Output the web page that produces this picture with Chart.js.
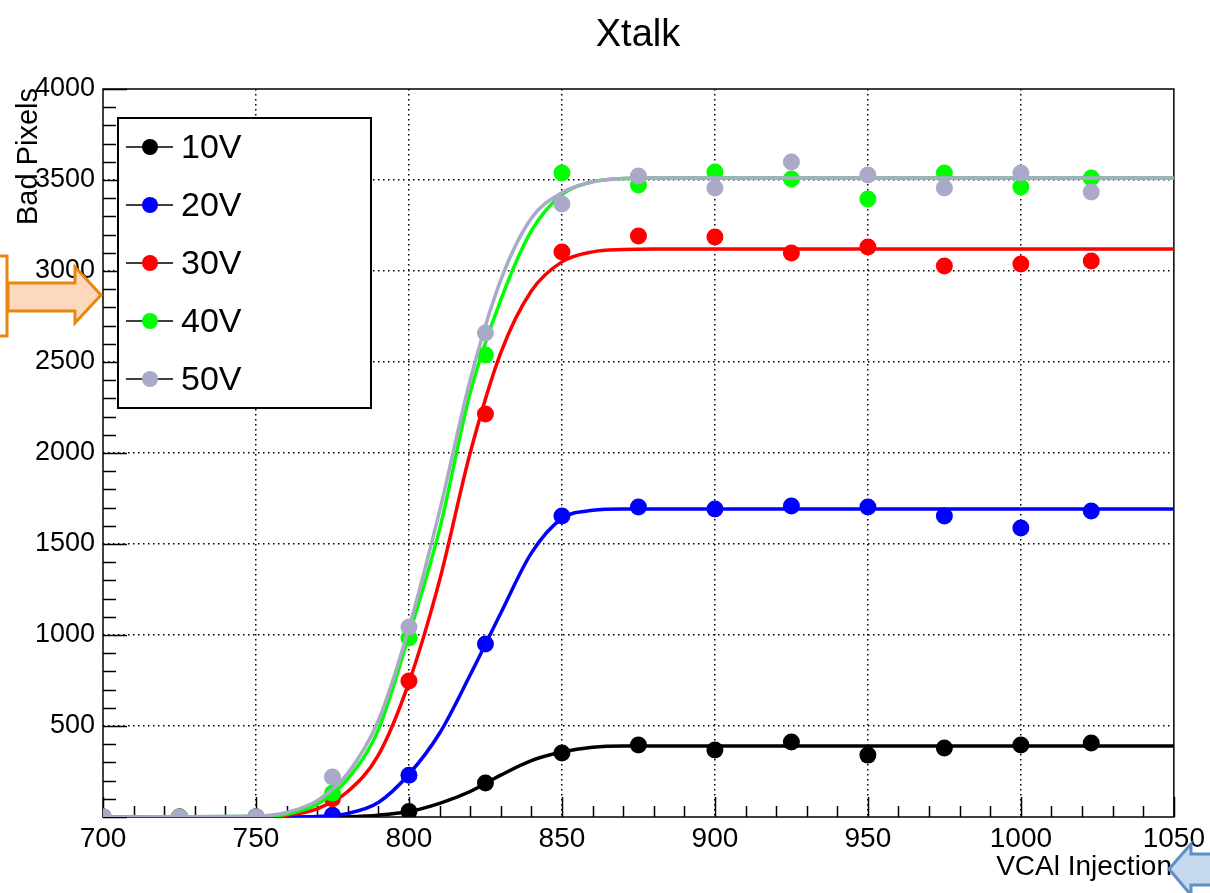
<!DOCTYPE html>
<html>
<head>
<meta charset="utf-8">
<title>Xtalk</title>
<script src="https://cdn.jsdelivr.net/npm/chart.js@4.4.1/dist/chart.umd.min.js"></script>
<style>
  html, body { margin: 0; padding: 0; background: #fff; }
  #wrap { width: 1210px; height: 893px; }
</style>
</head>
<body>
<div id="wrap"><canvas id="xtalkChart" width="1210" height="893"></canvas></div>
<script>
// measured points (VCal injection vs bad pixels)
const vcal = [700, 725, 750, 775, 800, 825, 850, 875, 900, 925, 950, 975, 1000, 1023];
const bad10V = [0, 0, 0, 0, 30, 187, 352, 395, 368, 412, 340, 379, 395, 406];
const bad20V = [0, 0, 0, 10, 230, 950, 1654, 1703, 1692, 1709, 1703, 1654, 1588, 1681];
const bad30V = [0, 0, 0, 100, 747, 2214, 3104, 3192, 3187, 3099, 3132, 3027, 3038, 3055];
const bad40V = [0, 0, 0, 130, 983, 2538, 3538, 3472, 3544, 3505, 3396, 3538, 3462, 3511];
const bad50V = [0, 0, 0, 220, 1044, 2659, 3368, 3522, 3456, 3599, 3527, 3456, 3538, 3434];

// fit curves
const fitX = [700, 750, 760, 770, 780, 790, 800, 810, 820, 830, 840, 850, 860, 870, 880, 1050];
const fit10V = [0, 0, 0, 0, 2, 10, 30, 75, 140, 230, 310, 357, 383, 390, 390, 390];
const fit20V = [0, 0, 0, 3, 20, 80, 235, 460, 780, 1120, 1450, 1640, 1685, 1692, 1692, 1692];
const fit30V = [0, 2, 10, 45, 140, 340, 740, 1300, 2000, 2550, 2890, 3050, 3105, 3118, 3121, 3121];
const fit40V = [0, 3, 15, 70, 210, 480, 1000, 1580, 2330, 2840, 3220, 3420, 3490, 3508, 3511, 3511];
const fit50V = [0, 5, 25, 90, 240, 530, 1040, 1680, 2400, 2950, 3290, 3430, 3490, 3508, 3511, 3511];

const seriesLabels = ['10V', '20V', '30V', '40V', '50V'];
const seriesColors = ['#000000', '#0000ff', '#ff0000', '#00ff00', '#a9a9c8'];
const pointSets = [bad10V, bad20V, bad30V, bad40V, bad50V];
const fitSets = [fit10V, fit20V, fit30V, fit40V, fit50V];

const xTicks = { min: 700, max: 1050, step: 50, minor: 10 };
const yTicks = { min: 0, max: 4000, step: 500, minor: 100 };

const FONT = '"Liberation Sans", Arial, Helvetica, sans-serif';

function toXY(xs, ys) {
    return xs.map((x, i) => ({ x: x, y: ys[i] }));
}

// first dataset is drawn on top, so build from 50V down to 10V
const datasets = [];
for (let i = seriesLabels.length - 1; i >= 0; i--) {
    datasets.push({
        label: seriesLabels[i] + ' fit',
        data: toXY(fitX, fitSets[i]),
        showLine: true,
        borderColor: seriesColors[i],
        borderWidth: 3.5,
        pointRadius: 0,
        cubicInterpolationMode: 'monotone'
    });
    datasets.push({
        label: seriesLabels[i],
        data: toXY(vcal, pointSets[i]),
        showLine: false,
        pointRadius: 8.5,
        pointBorderWidth: 0,
        pointBackgroundColor: seriesColors[i],
        backgroundColor: seriesColors[i]
    });
}

// ROOT-like frame with inward major/minor ticks
const framePlugin = {
    id: 'frame',
    beforeDatasetsDraw(chart) {
        const { ctx, chartArea: a, scales: { x, y } } = chart;
        ctx.save();
        ctx.strokeStyle = '#000';
        ctx.lineWidth = 1.5;
        ctx.beginPath();
        for (let v = xTicks.min; v <= xTicks.max; v += xTicks.minor) {
            const px = Math.round(x.getPixelForValue(v)) + 0.5;
            const len = (v % xTicks.step === 0) ? 20 : 11;
            ctx.moveTo(px, a.bottom);
            ctx.lineTo(px, a.bottom - len);
        }
        for (let v = yTicks.min; v <= yTicks.max; v += yTicks.minor) {
            const py = Math.round(y.getPixelForValue(v)) + 0.5;
            const len = (v % yTicks.step === 0) ? 24 : 13;
            ctx.moveTo(a.left, py);
            ctx.lineTo(a.left + len, py);
        }
        ctx.stroke();
        ctx.strokeRect(a.left, a.top, a.right - a.left, a.bottom - a.top);
        ctx.restore();
    },
    afterDraw(chart) {
        const ctx = chart.ctx;
        ctx.save();
        ctx.fillStyle = '#000';

        // title
        ctx.font = '38px ' + FONT;
        ctx.textAlign = 'center';
        ctx.textBaseline = 'alphabetic';
        ctx.fillText('Xtalk', 638, 46);

        // axis titles
        ctx.font = '28px ' + FONT;
        ctx.textAlign = 'right';
        ctx.fillText('VCAl Injection', 1172, 875);
        ctx.save();
        ctx.translate(37, 88);
        ctx.rotate(-Math.PI / 2);
        ctx.font = '29px ' + FONT;
        ctx.fillText('Bad Pixels', 0, 0);
        ctx.restore();

        // legend box
        ctx.fillStyle = '#fff';
        ctx.fillRect(118, 118, 253, 290);
        ctx.strokeStyle = '#000';
        ctx.lineWidth = 2;
        ctx.strokeRect(118, 118, 253, 290);
        ctx.font = '34px ' + FONT;
        ctx.textAlign = 'left';
        ctx.textBaseline = 'middle';
        seriesLabels.forEach((lab, i) => {
            const cy = 147 + i * 58;
            ctx.strokeStyle = '#000';
            ctx.lineWidth = 1.5;
            ctx.beginPath();
            ctx.moveTo(126, cy);
            ctx.lineTo(173, cy);
            ctx.stroke();
            ctx.fillStyle = seriesColors[i];
            ctx.beginPath();
            ctx.arc(150, cy, 8, 0, Math.PI * 2);
            ctx.fill();
            ctx.fillStyle = '#000';
            ctx.fillText(lab, 181, cy + 2);
        });

        // orange callout arrow on the left
        ctx.lineJoin = 'miter';
        ctx.lineWidth = 3;
        ctx.strokeStyle = '#e9860f';
        ctx.beginPath();
        ctx.moveTo(0, 256);
        ctx.lineTo(7, 256);
        ctx.lineTo(7, 336);
        ctx.lineTo(0, 336);
        ctx.stroke();
        ctx.fillStyle = '#fcd9bd';
        ctx.beginPath();
        ctx.moveTo(8, 283);
        ctx.lineTo(75, 283);
        ctx.lineTo(75, 267);
        ctx.lineTo(101, 295);
        ctx.lineTo(75, 323);
        ctx.lineTo(75, 311);
        ctx.lineTo(8, 311);
        ctx.closePath();
        ctx.fill();
        ctx.stroke();

        // blue arrow at bottom right
        ctx.strokeStyle = '#5f8fc6';
        ctx.fillStyle = '#c6d8ee';
        ctx.beginPath();
        ctx.moveTo(1214, 854);
        ctx.lineTo(1191, 854);
        ctx.lineTo(1191, 844);
        ctx.lineTo(1169, 869);
        ctx.lineTo(1191, 895);
        ctx.lineTo(1191, 885);
        ctx.lineTo(1214, 885);
        ctx.closePath();
        ctx.fill();
        ctx.stroke();
        ctx.restore();
    }
};

const ctx = document.getElementById('xtalkChart').getContext('2d');
new Chart(ctx, {
    type: 'scatter',
    data: { datasets: datasets },
    options: {
        responsive: false,
        animation: false,
        devicePixelRatio: 1,
        layout: { padding: { top: 89, right: 35, left: 0, bottom: 0 } },
        plugins: {
            legend: { display: false },
            title: { display: false },
            tooltip: { enabled: false }
        },
        scales: {
            x: {
                type: 'linear',
                min: xTicks.min,
                max: xTicks.max,
                afterFit: s => { s.height = 76; },
                ticks: {
                    stepSize: xTicks.step,
                    autoSkip: false,
                    maxRotation: 0,
                    padding: 5,
                    color: '#000',
                    font: { family: FONT, size: 28 },
                    callback: v => String(v)
                },
                grid: {
                    drawTicks: false,
                    color: c => (c.tick && (c.tick.value === xTicks.min || c.tick.value === xTicks.max)) ? 'rgba(0,0,0,0)' : '#000',
                    lineWidth: 1.5
                },
                border: { display: false, dash: [1.5, 3.5] }
            },
            y: {
                type: 'linear',
                min: yTicks.min,
                max: yTicks.max,
                afterFit: s => { s.width = 103; },
                ticks: {
                    stepSize: yTicks.step,
                    autoSkip: false,
                    padding: 8,
                    color: '#000',
                    font: { family: FONT, size: 27 },
                    callback: v => v === 0 ? '' : String(v)
                },
                grid: {
                    drawTicks: false,
                    color: c => (c.tick && (c.tick.value === yTicks.min || c.tick.value === yTicks.max)) ? 'rgba(0,0,0,0)' : '#000',
                    lineWidth: 1.5
                },
                border: { display: false, dash: [1.5, 3.5] }
            }
        }
    },
    plugins: [framePlugin]
});
</script>
</body>
</html>
